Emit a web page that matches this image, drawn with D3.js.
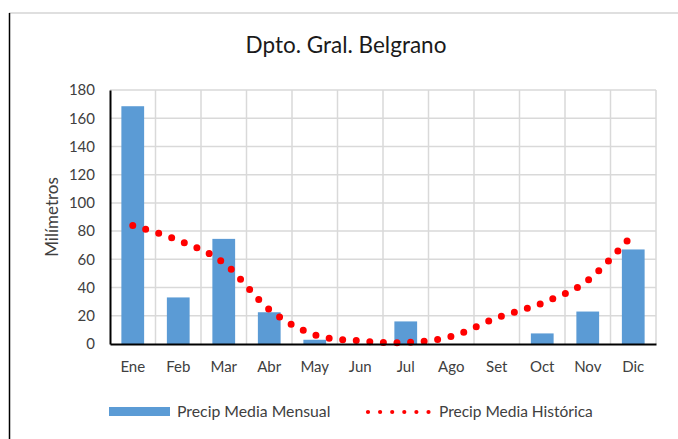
<!DOCTYPE html>
<html>
<head>
<meta charset="utf-8">
<script src="https://cdn.jsdelivr.net/npm/d3@7"></script>
<style>
  body { margin: 0; background: #fff; }
  text { font-family: Lato, "Open Sans", sans-serif; fill: #404040; }
</style>
</head>
<body>
<script>
// monthly data
var months = ["Ene", "Feb", "Mar", "Abr", "May", "Jun", "Jul", "Ago", "Set", "Oct", "Nov", "Dic"];
var mensual = [168.5, 33, 74.5, 22.5, 3, 0, 16, 0, 0, 7.5, 23, 67];
var historica = [84, 73.5, 57.5, 24.5, 6.5, 2.2, 1, 5.3, 18.5, 29, 45, 78];
var yTicks = [0, 20, 40, 60, 80, 100, 120, 140, 160, 180];

var W = 678, H = 439;
var margin = {top: 90, left: 110, right: 22, bottom: 95};
var width = W - margin.left - margin.right,
    height = H - margin.top - margin.bottom;

var svg = d3.select("body").append("svg")
    .attr("width", W)
    .attr("height", H);

// chart frame
svg.append("line").attr("x1", 9).attr("x2", W).attr("y1", 13).attr("y2", 13)
    .attr("stroke", "#bfbfbf").attr("stroke-width", 1);
svg.append("line").attr("x1", 9.5).attr("x2", 9.5).attr("y1", 13).attr("y2", H)
    .attr("stroke", "#000").attr("stroke-width", 1.5);

svg.append("text")
    .attr("x", 346).attr("y", 53)
    .attr("text-anchor", "middle")
    .style("font-size", "22.5px")
    .style("fill", "#1a1a1a")
    .text("Dpto. Gral. Belgrano");

var g = svg.append("g")
    .attr("transform", "translate(" + margin.left + "," + margin.top + ")");

var x = d3.scaleBand().domain(months).range([0, width])
    .paddingInner(0.5).paddingOuter(0.25);
var y = d3.scaleLinear().domain([0, 180]).range([height, 0]);

// grid
g.selectAll(".hgrid").data(yTicks.slice(1)).enter().append("line")
    .attr("x1", 0).attr("x2", width)
    .attr("y1", function(d) { return y(d); })
    .attr("y2", function(d) { return y(d); })
    .attr("stroke", "#d9d9d9").attr("stroke-width", 1.5);

g.selectAll(".vgrid").data(months).enter().append("line")
    .attr("x1", function(d) { return x(d) + x.bandwidth() + x.step() * 0.25; })
    .attr("x2", function(d) { return x(d) + x.bandwidth() + x.step() * 0.25; })
    .attr("y1", 0).attr("y2", height)
    .attr("stroke", "#d9d9d9").attr("stroke-width", 1.5);

// bars
g.selectAll(".bar").data(months).enter().append("rect")
    .attr("x", function(d) { return x(d); })
    .attr("width", x.bandwidth())
    .attr("y", function(d, i) { return y(mensual[i]); })
    .attr("height", function(d, i) { return height - y(mensual[i]); })
    .attr("fill", "#5b9bd5");

// smoothed historic line, round dots
var line = d3.line()
    .x(function(d, i) { return x(months[i]) + x.bandwidth() / 2; })
    .y(function(d) { return y(d); })
    .curve(d3.curveCatmullRom.alpha(0));

g.append("path")
    .datum(historica)
    .attr("d", line)
    .attr("fill", "none")
    .attr("stroke", "#ff0000")
    .attr("stroke-width", 7)
    .attr("stroke-linecap", "round")
    .attr("stroke-dasharray", "0 13.6");

// axes
var yAxis = g.append("g")
    .call(d3.axisLeft(y).tickValues(yTicks).tickSize(0).tickPadding(15));
yAxis.select(".domain").attr("stroke", "#000").attr("stroke-width", 2);
yAxis.selectAll("text").style("font-size", "15px").style("fill", "#404040");

var xAxis = g.append("g")
    .attr("transform", "translate(0," + height + ")")
    .call(d3.axisBottom(x).tickSize(0).tickPadding(17));
xAxis.select(".domain").attr("stroke", "#000").attr("stroke-width", 2);
xAxis.selectAll("text").style("font-size", "15px").style("fill", "#404040");

svg.append("text")
    .attr("transform", "translate(58," + (margin.top + height / 2) + ") rotate(-90)")
    .attr("text-anchor", "middle")
    .style("font-size", "17px")
    .text("Milímetros");

// legend
var legend = svg.append("g");
legend.append("rect")
    .attr("x", 109).attr("y", 407).attr("width", 61).attr("height", 9)
    .attr("fill", "#5b9bd5");
legend.append("text")
    .attr("x", 177).attr("y", 417)
    .style("font-size", "15.8px")
    .text("Precip Media Mensual");
legend.append("line")
    .attr("x1", 368).attr("x2", 430).attr("y1", 412).attr("y2", 412)
    .attr("stroke", "#ff0000")
    .attr("stroke-width", 4.2)
    .attr("stroke-linecap", "round")
    .attr("stroke-dasharray", "0 12.1");
legend.append("text")
    .attr("x", 439).attr("y", 417)
    .style("font-size", "15.5px")
    .text("Precip Media Histórica");
</script>
</body>
</html>
